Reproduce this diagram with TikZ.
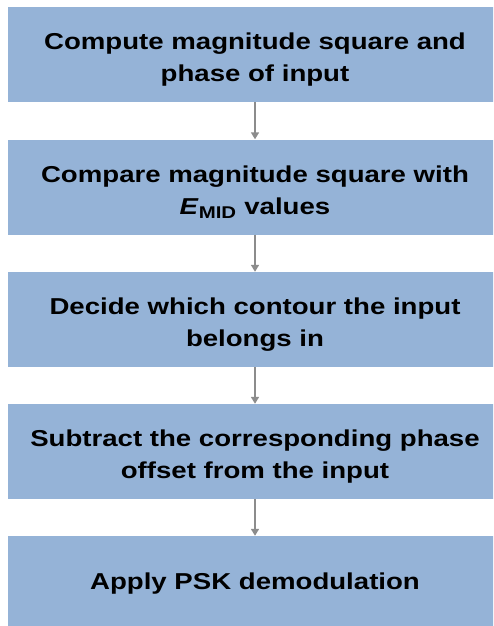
\documentclass[tikz,border=0pt]{standalone}
\usepackage{fontspec}
\setmainfont{Liberation Sans}[FakeStretch=1.2]
\usetikzlibrary{arrows.meta}
\definecolor{boxblue}{HTML}{95B3D7}
\definecolor{arrowgray}{HTML}{8C8C8C}
\newcommand{\toppad}{\rule{0pt}{27pt}}
\begin{document}
\begin{tikzpicture}[x=1pt,y=-1pt,
  stepbox/.style={fill=boxblue, draw=none, minimum width=494pt, minimum height=95pt,
    text width=480pt, align=center, inner sep=0pt,
    font=\fontsize{23}{32}\selectfont\bfseries},
  flow/.style={draw=arrowgray, line width=1.6pt, -{Triangle[length=7pt,width=8pt]}}]
\useasboundingbox (0,0) rectangle (493,626);
\clip (0,0) rectangle (493,626);
\fill[white] (0,0) rectangle (493,626);
\node[stepbox] (b1) at (255,54.5) {\toppad Compute magnitude square and\\phase of input};
\node[stepbox] (b2) at (255,187) {\toppad Compare magnitude square with\\\textit{E}\textsubscript{\fontsize{17}{17}\selectfont MID} values};
\node[stepbox] (b3) at (255,319.5) {\toppad Decide which contour the input\\belongs in};
\node[stepbox] (b4) at (255,451.5) {\toppad Subtract the corresponding phase\\offset from the input};
\node[stepbox] (b5) at (255,583.5) {\raisebox{-2pt}{Apply PSK demodulation}};
\draw[flow] (b1.south) -- (b2.north);
\draw[flow] (b2.south) -- (b3.north);
\draw[flow] (b3.south) -- (b4.north);
\draw[flow] (b4.south) -- (b5.north);
\end{tikzpicture}
\end{document}
